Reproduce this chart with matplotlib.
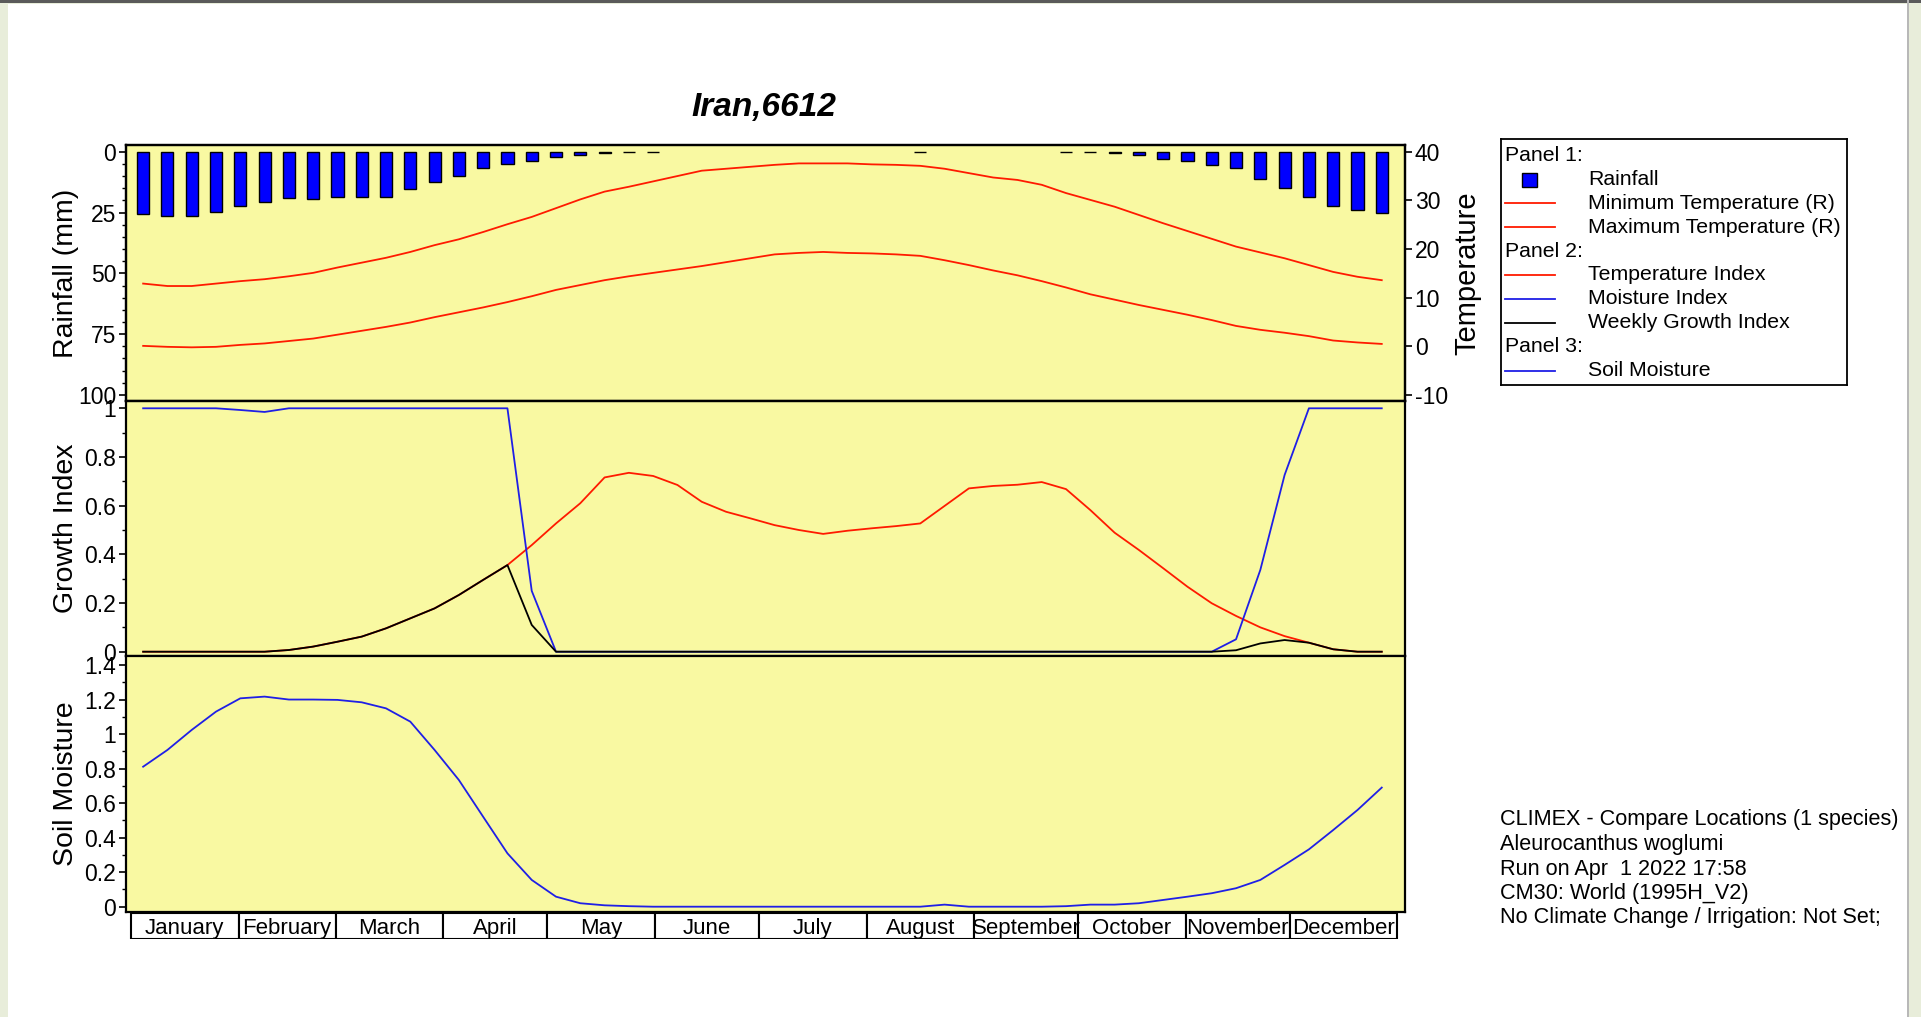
import numpy as np
import matplotlib
matplotlib.use("Agg")
import matplotlib.pyplot as plt
from matplotlib.patches import Rectangle
from matplotlib.lines import Line2D
from matplotlib.ticker import MultipleLocator, FormatStrFormatter

plt.rcParams['font.family'] = ['Liberation Sans', 'DejaVu Sans']

# ---------------- data ----------------
weeks = np.arange(1, 53)
months = ["January", "February", "March", "April", "May", "June", "July",
          "August", "September", "October", "November", "December"]
month_days = [31, 28, 31, 30, 31, 30, 31, 31, 30, 31, 30, 31]

rainfall = [25.8, 26.3, 26.3, 24.7, 22.3, 20.8, 19.2, 19.3, 18.6, 18.6, 18.6, 15.3,
            12.6, 9.9, 6.7, 5.1, 4.0, 2.2, 1.2, 0.7, 0.3, 0.3,
            0, 0, 0, 0, 0, 0, 0, 0, 0, 0, 0.3, 0, 0, 0, 0, 0,
            0.3, 0.3, 0.7, 1.5, 3.0, 4.0, 5.6, 6.7, 11.1, 14.9, 18.6, 22.5, 24.1, 25.2]

min_temp = [0.1, -0.1, -0.2, -0.1, 0.3, 0.6, 1.1, 1.6, 2.4, 3.2, 4.0, 4.9, 6.0, 7.0,
            8.0, 9.1, 10.3, 11.6, 12.6, 13.6, 14.4, 15.1, 15.8, 16.5,
            17.3, 18.1, 18.9, 19.2, 19.4, 19.2, 19.1, 18.9, 18.6, 17.7, 16.7, 15.6,
            14.6, 13.4, 12.1, 10.7, 9.6, 8.5, 7.5, 6.5, 5.4, 4.2, 3.4, 2.8, 2.1, 1.2,
            0.8, 0.5]

max_temp = [12.9, 12.4, 12.4, 12.9, 13.4, 13.8, 14.4, 15.1, 16.2, 17.2, 18.2, 19.4,
            20.8, 22.0, 23.5, 25.1, 26.6, 28.4, 30.2, 31.8, 32.8, 33.9, 35.0, 36.1,
            36.5, 36.9, 37.3, 37.6, 37.6, 37.6, 37.4, 37.3, 37.1, 36.5, 35.6, 34.7,
            34.2, 33.2, 31.5, 30.1, 28.7, 27.0, 25.3, 23.7, 22.1, 20.5, 19.3, 18.1,
            16.7, 15.3, 14.3, 13.6]

temp_index = [0, 0, 0, 0, 0, 0, 0.007, 0.021, 0.041, 0.062, 0.096, 0.137, 0.178,
              0.233, 0.295, 0.356, 0.438, 0.527, 0.61, 0.716, 0.735, 0.722, 0.685,
              0.616, 0.575, 0.548, 0.52, 0.50, 0.484, 0.497, 0.507, 0.516, 0.527,
              0.599, 0.671, 0.681, 0.686, 0.697, 0.668, 0.582, 0.489, 0.418, 0.343,
              0.267, 0.199, 0.147, 0.10, 0.064, 0.037, 0.01, 0, 0]

moist_index = [1.0, 1.0, 1.0, 1.0, 0.993, 0.985, 1.0, 1.0, 1.0, 1.0, 1.0, 1.0, 1.0,
               1.0, 1.0, 1.0, 0.25, 0, 0, 0, 0, 0, 0, 0, 0, 0, 0, 0, 0, 0, 0, 0, 0,
               0, 0, 0, 0, 0, 0, 0, 0, 0, 0, 0, 0, 0.051, 0.336, 0.726, 1.0, 1.0,
               1.0, 1.0]

growth_index = [0, 0, 0, 0, 0, 0, 0.007, 0.021, 0.041, 0.062, 0.096, 0.137, 0.178,
                0.233, 0.295, 0.356, 0.11, 0, 0, 0, 0, 0, 0, 0, 0, 0, 0, 0, 0, 0,
                0, 0, 0, 0, 0, 0, 0, 0, 0, 0, 0, 0, 0, 0, 0, 0.006, 0.034, 0.048,
                0.037, 0.01, 0, 0]

soil_moisture = [0.811, 0.908, 1.024, 1.13, 1.207, 1.217, 1.20, 1.20, 1.198, 1.184,
                 1.149, 1.072, 0.908, 0.734, 0.521, 0.309, 0.155, 0.058, 0.02, 0.008,
                 0.003, 0, 0, 0, 0, 0, 0, 0, 0, 0, 0, 0, 0, 0.012, 0, 0, 0, 0,
                 0.003, 0.012, 0.012, 0.02, 0.039, 0.058, 0.078, 0.107, 0.155, 0.242,
                 0.332, 0.444, 0.56, 0.69]

legend_entries = [("Panel 1:", None), ("Rainfall", "bar"),
                  ("Minimum Temperature (R)", "red"), ("Maximum Temperature (R)", "red"),
                  ("Panel 2:", None), ("Temperature Index", "red"),
                  ("Moisture Index", "blue"), ("Weekly Growth Index", "black"),
                  ("Panel 3:", None), ("Soil Moisture", "blue")]

footer_lines = ["CLIMEX - Compare Locations (1 species)", "Aleurocanthus woglumi",
                "Run on Apr  1 2022 17:58", "CM30: World (1995H_V2)",
                "No Climate Change / Irrigation: Not Set;"]

# ---------------- figure ----------------
W, H = 1921, 1017
fig = plt.figure(figsize=(W / 100, H / 100), dpi=100)
fig.patch.set_facecolor('#e8edda')
fig.patches.append(Rectangle((8 / W, 0), 1899 / W, 1 - 4 / H, transform=fig.transFigure,
                             facecolor='white', edgecolor='none', zorder=-10))
fig.patches.append(Rectangle((0, 1 - 3 / H), 1, 3 / H, transform=fig.transFigure,
                             facecolor='#5a5a5a', edgecolor='none', zorder=-9))
fig.patches.append(Rectangle((1907 / W, 0), 2 / W, 1, transform=fig.transFigure,
                             facecolor='#b8b8b8', edgecolor='none', zorder=-9))

BG = '#f9f9a2'
RED = '#ff1a00'
BLUE = '#1f1fe6'
TICK_FS = 16.5
LABEL_FS = 20.5
x_days = (weeks - 0.5) * 7.0
XLIM = (-1.44, 367.2)

left = 126 / W
width = (1405 - 126) / W


def ax_at(top, bottom):
    return fig.add_axes([left, 1 - bottom / H, width, (bottom - top) / H])


ax1 = ax_at(145, 401)
ax2 = ax_at(401, 655.7)
ax3 = ax_at(655.7, 911.7)
axm = ax_at(913, 939)

for ax in (ax1, ax2, ax3):
    ax.set_facecolor(BG)
    ax.set_xlim(*XLIM)
    ax.set_xticks([])
    for s in ax.spines.values():
        s.set_linewidth(1.6)
    ax.tick_params(axis='y', which='major', direction='out', length=5, width=1.2,
                   labelsize=TICK_FS, pad=2)
    ax.tick_params(axis='y', which='minor', direction='out', length=3, width=1.0)

# Panel 1 : rainfall (inverted) + temperatures
rain = np.array(rainfall)
mask = rain > 0
ax1.bar(x_days[mask], rain[mask], width=3.5, color='#0000ff', edgecolor='black',
        linewidth=1.0, zorder=3)
ax1.set_ylim(102.47, -2.75)
ax1.yaxis.set_major_locator(MultipleLocator(25))
ax1.yaxis.set_minor_locator(MultipleLocator(5))
ax1.yaxis.set_major_formatter(FormatStrFormatter('%d'))
ax1.set_ylabel("Rainfall (mm)", fontsize=LABEL_FS)
ax1.yaxis.set_label_coords(-0.037, 0.5)

ax1r = ax1.twinx()
ax1r.set_xlim(*XLIM)
ax1r.plot(x_days, min_temp, color=RED, lw=1.3, zorder=4)
ax1r.plot(x_days, max_temp, color=RED, lw=1.3, zorder=4)
ax1r.set_ylim(-11.23, 41.38)
ax1r.yaxis.set_major_locator(MultipleLocator(10))
ax1r.yaxis.set_major_formatter(FormatStrFormatter('%d'))
ax1r.tick_params(axis='y', direction='out', length=5, width=1.2, labelsize=TICK_FS, pad=2)
for s in ax1r.spines.values():
    s.set_linewidth(1.6)
ax1r.set_ylabel("Temperature", fontsize=LABEL_FS + 0.5)
ax1r.yaxis.set_label_coords(1.0375, 0.5)

# Panel 2 : indices
ax2.plot(x_days, temp_index, color=RED, lw=1.3, zorder=3)
ax2.plot(x_days, moist_index, color=BLUE, lw=1.3, zorder=4)
ax2.plot(x_days, growth_index, color='black', lw=1.3, zorder=5)
ax2.set_ylim(-0.0164, 1.030)
ax2.yaxis.set_major_locator(MultipleLocator(0.2))
ax2.yaxis.set_minor_locator(MultipleLocator(0.1))
ax2.yaxis.set_major_formatter(FormatStrFormatter('%g'))
ax2.set_ylabel("Growth Index", fontsize=LABEL_FS)
ax2.yaxis.set_label_coords(-0.037, 0.5)

# Panel 3 : soil moisture
ax3.plot(x_days, soil_moisture, color=BLUE, lw=1.3)
ax3.set_ylim(-0.029, 1.454)
ax3.yaxis.set_major_locator(MultipleLocator(0.2))
ax3.yaxis.set_minor_locator(MultipleLocator(0.1))
ax3.yaxis.set_major_formatter(FormatStrFormatter('%g'))
ax3.set_ylabel("Soil Moisture", fontsize=LABEL_FS)
ax3.yaxis.set_label_coords(-0.037, 0.5)

# Month boxes
starts = np.concatenate([[0], np.cumsum(month_days)[:-1]])
axm.set_xlim(*XLIM)
axm.set_ylim(0, 1)
axm.axis('off')
axm.bar(starts, [1] * 12, width=month_days, align='edge', bottom=0,
        facecolor='white', edgecolor='black', linewidth=1.5)
for s, d, name in zip(starts, month_days, months):
    axm.text(s + d / 2, 0.42, name, ha='center', va='center', fontsize=16)

# Title
fig.text(764 / W, 1 - 108 / H, "Iran,6612", ha='center', va='center', fontsize=24,
         fontweight='bold', fontstyle='italic')

# Legend (box in pixel units)
axl = fig.add_axes([1501 / W, 1 - 385 / H, 346 / W, 246 / H])
axl.set_xlim(0, 346)
axl.set_ylim(246, 0)
axl.set_xticks([])
axl.set_yticks([])
axl.set_facecolor('white')
for s in axl.spines.values():
    s.set_linewidth(1.3)
for k, (label, kind) in enumerate(legend_entries):
    y = 16.5 + 23.9 * k
    if kind is None:
        axl.text(4, y, label, va='center', ha='left', fontsize=15.3)
        continue
    if kind == 'bar':
        axl.add_patch(Rectangle((21, y - 6.5), 15, 14, facecolor='#0000ff',
                                edgecolor='black', lw=1.0))
    else:
        col = {'red': RED, 'blue': BLUE, 'black': 'black'}[kind]
        axl.add_line(Line2D([4, 54], [y, y], color=col, lw=1.3))
    axl.text(87, y, label, va='center', ha='left', fontsize=15.3)

# Footer
for k, line in enumerate(footer_lines):
    fig.text(1500 / W, 1 - (820 + 24.5 * k) / H, line, ha='left', va='center',
             fontsize=15.6)

fig.savefig("out.png", dpi=100, facecolor=fig.get_facecolor())
